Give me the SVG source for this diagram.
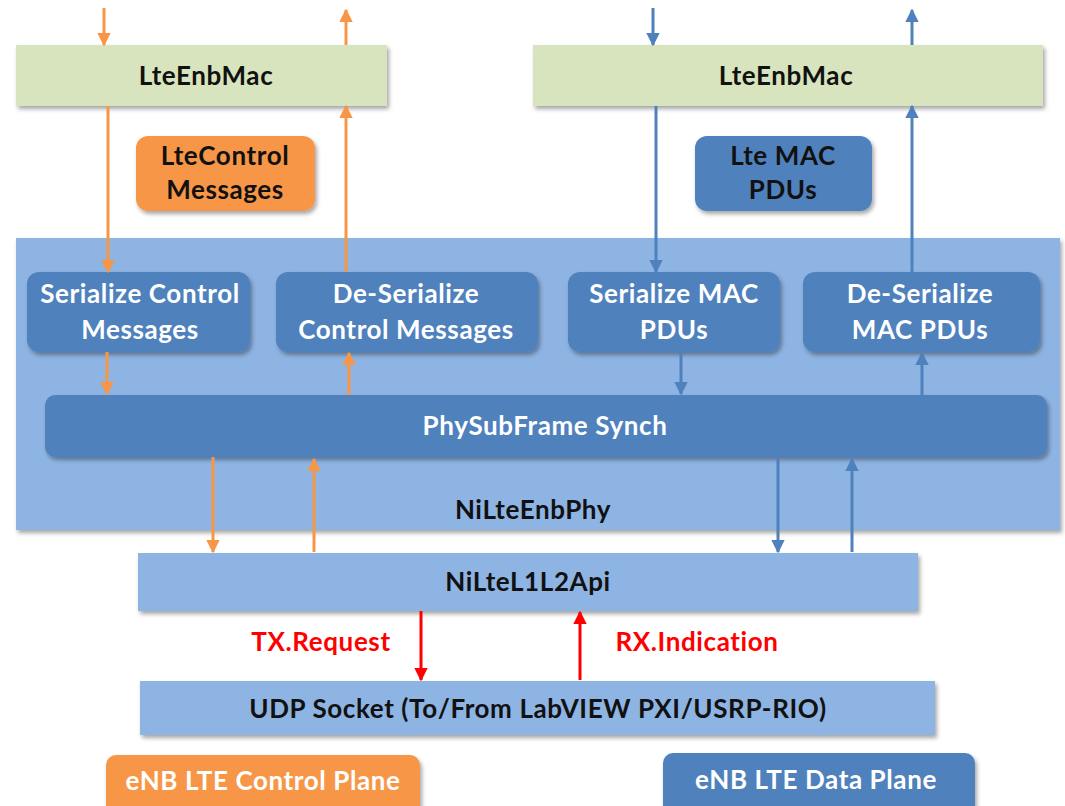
<svg xmlns="http://www.w3.org/2000/svg" width="1065" height="806" viewBox="0 0 1065 806">
<style>
text{font-family:Lato,"Open Sans","Liberation Sans",sans-serif;font-weight:bold;text-anchor:middle;font-size:26px;letter-spacing:0.6px}
.dk{fill:#111}
.wh{fill:#fff}
.rd{fill:#ff0000}
.green{fill:#d7e4bd}
.lb{fill:#8eb4e3}
.db{fill:#4f81bd}
.or{fill:#f79646}
.lo{stroke:#f79646;stroke-width:3;fill:none}
.lbl{stroke:#4f81bd;stroke-width:3;fill:none}
.lr{stroke:#ff0000;stroke-width:3;fill:none}
</style>
<defs>
<filter id="sh" x="-5%" y="-10%" width="110%" height="130%">
<feDropShadow dx="2" dy="3" stdDeviation="2" flood-color="#000" flood-opacity="0.35"/>
</filter>
<marker id="ao" viewBox="0 0 10 10" refX="9" refY="5" markerWidth="4.5" markerHeight="4.5" orient="auto"><path d="M0,0L10,5L0,10z" fill="#f79646"/></marker>
<marker id="ab" viewBox="0 0 10 10" refX="9" refY="5" markerWidth="4.5" markerHeight="4.5" orient="auto"><path d="M0,0L10,5L0,10z" fill="#4f81bd"/></marker>
<marker id="ar" viewBox="0 0 10 10" refX="9" refY="5" markerWidth="4.5" markerHeight="4.5" orient="auto"><path d="M0,0L10,5L0,10z" fill="#ff0000"/></marker>
</defs>
<rect width="1065" height="806" fill="#fff"/>

<g id="mac-left"><rect class="green" x="16" y="45" width="371" height="61" filter="url(#sh)"/><text class="dk" x="206" y="85">LteEnbMac</text></g>
<g id="mac-right"><rect class="green" x="533" y="45" width="510" height="61" filter="url(#sh)"/><text class="dk" x="786" y="85">LteEnbMac</text></g>

<g id="ctrl-msgs"><rect class="or" x="136" y="136" width="179" height="75" rx="12" filter="url(#sh)"/><text class="dk" x="225" y="165">LteControl</text><text class="dk" x="225" y="199">Messages</text></g>
<g id="mac-pdus"><rect class="db" x="695" y="136" width="177" height="75" rx="12" filter="url(#sh)"/><text class="dk" x="783" y="165">Lte MAC</text><text class="dk" x="783" y="199">PDUs</text></g>

<g id="phy"><rect class="lb" x="16" y="238" width="1044" height="292" filter="url(#sh)"/><text class="dk" x="533" y="519">NiLteEnbPhy</text></g>

<g id="ser-ctrl"><rect class="db" x="27" y="272" width="223" height="80" rx="12" filter="url(#sh)"/><text class="wh" x="140" y="303">Serialize Control</text><text class="wh" x="140" y="339">Messages</text></g>
<g id="deser-ctrl"><rect class="db" x="276" y="272" width="262" height="80" rx="12" filter="url(#sh)"/><text class="wh" x="406" y="303">De-Serialize</text><text class="wh" x="406" y="339">Control Messages</text></g>
<g id="ser-mac"><rect class="db" x="568" y="272" width="212" height="80" rx="12" filter="url(#sh)"/><text class="wh" x="674" y="303">Serialize MAC</text><text class="wh" x="674" y="339">PDUs</text></g>
<g id="deser-mac"><rect class="db" x="803" y="272" width="237" height="80" rx="12" filter="url(#sh)"/><text class="wh" x="920" y="303">De-Serialize</text><text class="wh" x="920" y="339">MAC PDUs</text></g>

<g id="phy-synch"><rect class="db" x="45" y="395" width="1002" height="62" rx="10" filter="url(#sh)"/><text class="wh" x="545" y="435">PhySubFrame Synch</text></g>

<g id="api"><rect class="lb" x="138" y="553" width="780" height="58" filter="url(#sh)"/><text class="dk" x="528" y="591">NiLteL1L2Api</text></g>
<g id="udp"><rect class="lb" x="140" y="681" width="795" height="54" filter="url(#sh)"/><text class="dk" x="538" y="718">UDP Socket (To/From LabVIEW PXI/USRP-RIO)</text></g>

<g id="ctrl-plane"><rect class="or" x="106" y="755" width="314" height="70" rx="10" filter="url(#sh)"/><text class="wh" x="263" y="790">eNB LTE Control Plane</text></g>
<g id="data-plane"><rect class="db" x="663" y="753" width="312" height="70" rx="10" filter="url(#sh)"/><text class="wh" x="816" y="789">eNB LTE Data Plane</text></g>

<g id="connectors">
<line class="lo" x1="104" y1="8" x2="104" y2="45" marker-end="url(#ao)"/>
<line class="lo" x1="346" y1="45" x2="346" y2="10" marker-end="url(#ao)"/>
<line class="lo" x1="108" y1="106" x2="108" y2="272" marker-end="url(#ao)"/>
<line class="lo" x1="346" y1="272" x2="346" y2="106" marker-end="url(#ao)"/>
<line class="lbl" x1="653" y1="8" x2="653" y2="45" marker-end="url(#ab)"/>
<line class="lbl" x1="912" y1="45" x2="912" y2="10" marker-end="url(#ab)"/>
<line class="lbl" x1="656" y1="106" x2="656" y2="272" marker-end="url(#ab)"/>
<line class="lbl" x1="912" y1="272" x2="912" y2="106" marker-end="url(#ab)"/>
<line class="lo" x1="107" y1="352" x2="107" y2="394" marker-end="url(#ao)"/>
<line class="lo" x1="349" y1="395" x2="349" y2="353" marker-end="url(#ao)"/>
<line class="lbl" x1="681" y1="352" x2="681" y2="394" marker-end="url(#ab)"/>
<line class="lbl" x1="922" y1="395" x2="922" y2="353" marker-end="url(#ab)"/>
<line class="lo" x1="213" y1="457" x2="213" y2="552" marker-end="url(#ao)"/>
<line class="lo" x1="314" y1="552" x2="314" y2="459" marker-end="url(#ao)"/>
<line class="lbl" x1="778" y1="457" x2="778" y2="552" marker-end="url(#ab)"/>
<line class="lbl" x1="852" y1="552" x2="852" y2="459" marker-end="url(#ab)"/>
<line class="lr" x1="421" y1="611" x2="421" y2="680" marker-end="url(#ar)"/>
<line class="lr" x1="580" y1="680" x2="580" y2="612" marker-end="url(#ar)"/>
<text class="rd" x="321" y="651">TX.Request</text>
<text class="rd" x="697" y="651">RX.Indication</text>
</g>
</svg>
